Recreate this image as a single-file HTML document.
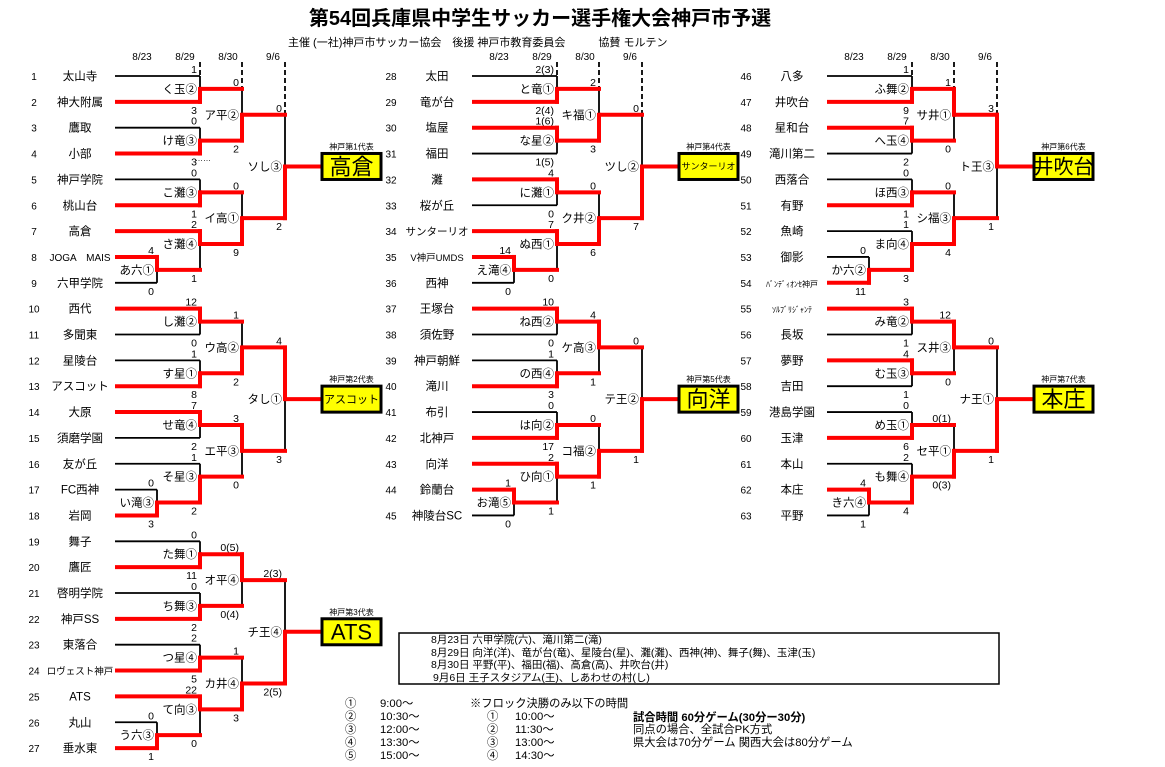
<!DOCTYPE html>
<html><head><meta charset="utf-8">
<style>
html,body{margin:0;padding:0;background:#fff;}
svg{display:block;}
text{font-family:"Liberation Sans","Noto Sans CJK JP",sans-serif;fill:#000;}
</style></head>
<body>
<svg id="s" width="1165" height="767" xmlns="http://www.w3.org/2000/svg">
<text x="540" y="25" font-size="20" text-anchor="middle" font-weight="bold">第54回兵庫県中学生サッカー選手権大会神戸市予選</text>
<text x="288" y="46" font-size="11">主催 (一社)神戸市サッカー協会　後援 神戸市教育委員会　　　協賛 モルテン</text>
<rect x="399" y="633" width="600" height="51" fill="none" stroke="#000" stroke-width="1.5"/>
<text x="431" y="643" font-size="10.5">8月23日 六甲学院(六)、滝川第二(滝)</text>
<text x="431" y="656" font-size="10.5">8月29日 向洋(洋)、竜が台(竜)、星陵台(星)、灘(灘)、西神(神)、舞子(舞)、玉津(玉)</text>
<text x="431" y="668" font-size="10.5">8月30日 平野(平)、福田(福)、高倉(高)、井吹台(井)</text>
<text x="433" y="681" font-size="10.5">9月6日 王子スタジアム(王)、しあわせの村(し)</text>
<g font-size="11.3">
<text x="345" y="707">①</text><text x="380" y="707">9:00～</text>
<text x="345" y="720">②</text><text x="380" y="720">10:30～</text>
<text x="345" y="733">③</text><text x="380" y="733">12:00～</text>
<text x="345" y="746">④</text><text x="380" y="746">13:30～</text>
<text x="345" y="759">⑤</text><text x="380" y="759">15:00～</text>
<text x="470" y="707">※フロック決勝のみ以下の時間</text>
<text x="487" y="720">①</text><text x="515" y="720">10:00～</text>
<text x="487" y="733">②</text><text x="515" y="733">11:30～</text>
<text x="487" y="746">③</text><text x="515" y="746">13:00～</text>
<text x="487" y="759">④</text><text x="515" y="759">14:30～</text>
<text x="633" y="721" font-weight="bold">試合時間 60分ゲーム(30分ー30分)</text>
<text x="633" y="733">同点の場合、全試合PK方式</text>
<text x="633" y="746">県大会は70分ゲーム 関西大会は80分ゲーム</text>
</g>
<text x="195" y="161" font-size="8">……</text>
</svg>
<script>
var S=document.getElementById('s'),NS='http://www.w3.org/2000/svg';
function el(n,a,t){var e=document.createElementNS(NS,n);for(var k in a)e.setAttribute(k,a[k]);if(t!==undefined)e.textContent=t;S.appendChild(e);return e;}
function ln(x1,y1,x2,y2,red,dash){var a={x1:x1,y1:y1,x2:x2,y2:y2,stroke:red?'#ff0000':'#000','stroke-width':red?4:1.8};if(dash)a['stroke-dasharray']='5,3';el('line',a);}
function tx(x,y,s,fs,anch){el('text',{x:x,y:y,'font-size':fs,'text-anchor':anch||'end'},s);}
var blk=[
 {dx:0,r:0,n:1,names:['太山寺','神大附属','鷹取','小部','神戸学院','桃山台','高倉','JOGA　MAIS','六甲学院'],
  R1:['あ六①',0,'4','0'],m:[['く玉②',1,'1','3'],['け竜③',1,'0','3'],['こ灘③',1,'0','1'],['さ灘④',0,'2','1']],
  A:['ア平②',1,'0','2'],B:['イ高①',1,'0','9'],F:['ソし③',1,'0','2'],box:'高倉',bf:22,lab:'神戸第1代表'},
 {dx:0,r:9,n:10,names:['西代','多聞東','星陵台','アスコット','大原','須磨学園','友が丘','FC西神','岩岡'],
  R1:['い滝③',1,'0','3'],m:[['し灘②',0,'12','0'],['す星①',1,'1','8'],['せ竜④',0,'7','2'],['そ星③',1,'1','2']],
  A:['ウ高②',1,'1','2'],B:['エ平③',0,'3','0'],F:['タし①',0,'4','3'],box:'アスコット',bf:11,lab:'神戸第2代表'},
 {dx:0,r:18,n:19,names:['舞子','鷹匠','啓明学院','神戸SS','東落合','ロヴェスト神戸','ATS','丸山','垂水東'],
  R1:['う六③',1,'0','1'],m:[['た舞①',1,'0','11'],['ち舞③',1,'0','2'],['つ星④',1,'2','5'],['て向③',0,'22','0']],
  A:['オ平④',0,'0(5)','0(4)'],B:['カ井④',1,'1','3'],F:['チ王④',1,'2(3)','2(5)'],box:'ATS',bf:22,lab:'神戸第3代表'},
 {dx:357,r:0,n:28,names:['太田','竜が台','塩屋','福田','灘','桜が丘','サンターリオ','V神戸UMDS','西神'],
  R1:['え滝④',0,'14','0'],m:[['と竜①',1,'2(3)','2(4)'],['な星②',0,'1(6)','1(5)'],['に灘①',0,'4','0'],['ぬ西①',0,'7','0']],
  A:['キ福①',1,'2','3'],B:['ク井②',1,'0','6'],F:['ツし②',1,'0','7'],box:'サンターリオ',bf:9,lab:'神戸第4代表'},
 {dx:357,r:9,n:37,names:['王塚台','須佐野','神戸朝鮮','滝川','布引','北神戸','向洋','鈴蘭台','神陵台SC'],
  R1:['お滝⑤',0,'1','0'],m:[['ね西②',0,'10','0'],['の西④',1,'1','3'],['は向②',1,'0','17'],['ひ向①',0,'2','1']],
  A:['ケ高③',0,'4','1'],B:['コ福②',1,'0','1'],F:['テ王②',1,'0','1'],box:'向洋',bf:22,lab:'神戸第5代表'},
 {dx:712,r:0,n:46,names:['八多','井吹台','星和台','滝川第二','西落合','有野','魚崎','御影','ﾊﾞﾝﾃﾞｨｵﾝｾ神戸'],
  R1:['か六②',1,'0','11'],m:[['ふ舞②',1,'1','9'],['へ玉④',0,'7','2'],['ほ西③',1,'0','1'],['ま向④',1,'1','3']],
  A:['サ井①',0,'1','0'],B:['シ福③',1,'0','4'],F:['ト王③',0,'3','1'],box:'井吹台',bf:20,lab:'神戸第6代表'},
 {dx:712,r:9,n:55,names:['ｿﾙﾌﾞﾘｼﾞｬﾝﾃ','長坂','夢野','吉田','港島学園','玉津','本山','本庄','平野'],
  R1:['き六④',0,'4','1'],m:[['み竜②',0,'3','1'],['む玉③',0,'4','1'],['め玉①',1,'0','6'],['も舞④',1,'2','4']],
  A:['ス井③',0,'12','0'],B:['セ平①',1,'0(1)','0(3)'],F:['ナ王①',1,'0','1'],box:'本庄',bf:22,lab:'神戸第7代表'}
];
blk.forEach(function(b){
 var dx=b.dx,Y=function(k){return 76+(b.r+k)*25.85;};
 var L=115+dx,X1=157+dx,X2=200+dx,X3=242+dx,X4=285+dx,BX=322+dx;
 if(b.r===0){
  tx(142+dx,60,'8/23',10,'middle');tx(185+dx,60,'8/29',10,'middle');tx(228+dx,60,'8/30',10,'middle');tx(273+dx,60,'9/6',10,'middle');
  ln(X2,62,X2,Y(0),false,true);ln(X3,62,X3,Y(0.5),false,true);ln(X4,62,X4,Y(1.5),false,true);
 }
 b.names.forEach(function(nm,i){
  tx(34+dx,Y(i)+4,String(b.n+i),10,'middle');
  var fs=nm.length>8?8:(nm.length>6?9.5:(nm.length>5?10.5:11.5));
  if(nm.indexOf('JOGA')===0)fs=10;
  tx(80+dx,Y(i)+4,nm,fs,'middle');
 });
 var reds=[];
 function match(x,t,bo,out,m){
  var w=m[1];
  [[t,0],[bo,1]].forEach(function(p){var e=p[0];var red=e.m||w===p[1];if(red)reds.push([e.fx,e.y,x,e.y]);else ln(e.fx,e.y,x,e.y,false);});
  var wy=w?bo.y:t.y,ly=w?t.y:bo.y;
  ln(x,ly,x,out,false);reds.push([x,wy,x,out]);
  tx(x-3,t.y-3,m[2],10.5);tx(x-3,bo.y+12,m[3],10.5);
  tx(x-3,out+4,m[0],11.5);
 }
 match(X1,{y:Y(7),fx:L},{y:Y(8),fx:L},Y(7.5),b.R1);
 match(X2,{y:Y(0),fx:L},{y:Y(1),fx:L},Y(0.5),b.m[0]);
 match(X2,{y:Y(2),fx:L},{y:Y(3),fx:L},Y(2.5),b.m[1]);
 match(X2,{y:Y(4),fx:L},{y:Y(5),fx:L},Y(4.5),b.m[2]);
 match(X2,{y:Y(6),fx:L},{y:Y(7.5),fx:X1,m:1},Y(6.5),b.m[3]);
 match(X3,{y:Y(0.5),fx:X2,m:1},{y:Y(2.5),fx:X2,m:1},Y(1.5),b.A);
 match(X3,{y:Y(4.5),fx:X2,m:1},{y:Y(6.5),fx:X2,m:1},Y(5.5),b.B);
 match(X4,{y:Y(1.5),fx:X3,m:1},{y:Y(5.5),fx:X3,m:1},Y(3.5),b.F);
 reds.push([X4,Y(3.5),BX,Y(3.5)]);
 reds.forEach(function(r){
  var x1=r[0],y1=r[1],x2=r[2],y2=r[3];
  if(y1===y2){x2+=2;}else{if(y1<y2){y1-=2;y2+=2;}else{y1+=2;y2-=2;}}
  ln(x1,y1,x2,y2,true);
 });
 var cy=Y(3.5);
 el('rect',{x:BX,y:cy-13,width:59,height:26,fill:'#ffff00',stroke:'#000','stroke-width':3});
 tx(BX+29.5,cy+b.bf*0.36,b.box,b.bf,'middle');
 tx(BX+29.5,cy-17,b.lab,8,'middle');
});
</script>
</body></html>
